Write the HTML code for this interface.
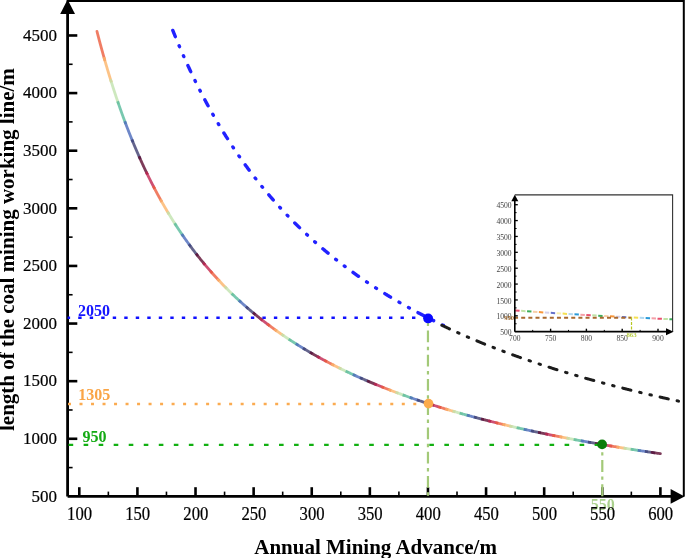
<!DOCTYPE html><html><head><meta charset="utf-8"><style>html,body{margin:0;padding:0;background:#fff;width:685px;height:558px;overflow:hidden}svg{display:block;will-change:transform}text{font-family:"Liberation Serif",serif}</style></head><body>
<svg width="685" height="558" viewBox="0 0 685 558">
<g fill="none" stroke-width="2.8" stroke-linecap="butt" stroke-opacity="0.8">
<path d="M96.97,31.38 L97.13,32.03 L97.30,32.68 L97.47,33.34 L97.64,33.99 L97.81,34.64 L97.98,35.29 L98.15,35.95 L98.32,36.60 L98.49,37.25 L98.66,37.90 L98.83,38.55 L99.00,39.21 L99.17,39.86 L99.35,40.51 L99.52,41.16 L99.69,41.81 L99.87,42.46 L100.04,43.11 L100.22,43.77 L100.39,44.42 L100.57,45.07 L100.74,45.72 L100.92,46.37 L101.10,47.02 L101.27,47.67 L101.45,48.32 L101.63,48.97 L101.81,49.62 L101.99,50.27 L102.17,50.92 L102.35,51.57 L102.53,52.22 L102.71,52.87 L102.89,53.52 L103.07,54.16 L103.25,54.81 L103.43,55.46 L103.62,56.11 L103.80,56.76 L103.98,57.41 L104.17,58.06 L104.35,58.70 L104.54,59.35 L104.72,60.00" stroke="#ec5c3d" stroke-linecap="round"/>
<path d="M103.90,57.12 L104.08,57.76 L104.27,58.41 L104.45,59.06 L104.64,59.71 L104.82,60.36 L105.01,61.00 L105.20,61.65 L105.38,62.30 L105.57,62.95 L105.76,63.59 L105.95,64.24 L106.14,64.89 L106.33,65.54 L106.52,66.18 L106.71,66.83 L106.90,67.48 L107.09,68.12 L107.28,68.77 L107.47,69.41 L107.67,70.06 L107.86,70.71 L108.05,71.35 L108.25,72.00 L108.44,72.64 L108.64,73.29 L108.83,73.93 L109.03,74.58 L109.23,75.22 L109.42,75.87 L109.62,76.51 L109.82,77.16 L110.02,77.80 L110.22,78.44 L110.42,79.09 L110.62,79.73 L110.82,80.38 L111.02,81.02 L111.22,81.66 L111.42,82.31" stroke="#fbb469"/>
<path d="M110.53,79.44 L110.72,80.08 L110.92,80.72 L111.12,81.35 L111.32,81.99 L111.52,82.62 L111.72,83.26 L111.92,83.90 L112.12,84.53 L112.33,85.17 L112.53,85.80 L112.73,86.44 L112.93,87.07 L113.14,87.71 L113.34,88.34 L113.55,88.98 L113.75,89.61 L113.96,90.25 L114.17,90.88 L114.37,91.51 L114.58,92.15 L114.79,92.78 L115.00,93.41 L115.21,94.05 L115.42,94.68 L115.63,95.31 L115.84,95.95 L116.05,96.58 L116.26,97.21 L116.47,97.84 L116.69,98.48 L116.90,99.11 L117.11,99.74 L117.33,100.37 L117.54,101.00 L117.76,101.63 L117.97,102.26 L118.19,102.89 L118.41,103.52 L118.62,104.16" stroke="#c1e2ae"/>
<path d="M117.65,101.32 L117.87,101.95 L118.09,102.59 L118.30,103.22 L118.52,103.86 L118.74,104.49 L118.96,105.13 L119.18,105.76 L119.40,106.40 L119.63,107.03 L119.85,107.67 L120.07,108.30 L120.29,108.93 L120.52,109.57 L120.74,110.20 L120.97,110.83 L121.19,111.46 L121.42,112.10 L121.65,112.73 L121.87,113.36 L122.10,113.99 L122.33,114.63 L122.56,115.26 L122.79,115.89 L123.02,116.52 L123.25,117.15 L123.48,117.78 L123.72,118.41 L123.95,119.04 L124.18,119.67 L124.42,120.30 L124.65,120.93 L124.88,121.56 L125.12,122.19 L125.36,122.82 L125.59,123.45 L125.83,124.07" stroke="#56ba9b"/>
<path d="M124.78,121.27 L125.02,121.91 L125.26,122.55 L125.50,123.19 L125.74,123.83 L125.98,124.47 L126.22,125.11 L126.47,125.75 L126.71,126.39 L126.96,127.03 L127.20,127.67 L127.45,128.31 L127.70,128.95 L127.95,129.59 L128.19,130.23 L128.44,130.86 L128.69,131.50 L128.94,132.14 L129.19,132.78 L129.45,133.41 L129.70,134.05 L129.95,134.69 L130.20,135.32 L130.46,135.96 L130.71,136.60 L130.97,137.23 L131.23,137.87 L131.48,138.50 L131.74,139.14 L132.00,139.77 L132.26,140.40 L132.52,141.04 L132.78,141.67 L133.04,142.31" stroke="#4a69ba"/>
<path d="M131.90,139.53 L132.16,140.16 L132.42,140.80 L132.68,141.43 L132.94,142.07 L133.20,142.70 L133.46,143.33 L133.73,143.96 L133.99,144.60 L134.25,145.23 L134.52,145.86 L134.78,146.49 L135.05,147.12 L135.32,147.75 L135.58,148.38 L135.85,149.01 L136.12,149.64 L136.39,150.27 L136.66,150.90 L136.93,151.53 L137.21,152.16 L137.48,152.79 L137.75,153.42 L138.03,154.04 L138.30,154.67 L138.58,155.30 L138.85,155.93 L139.13,156.55 L139.41,157.18 L139.69,157.80 L139.97,158.43 L140.25,159.06" stroke="#3d3d6f"/>
<path d="M139.03,156.31 L139.30,156.93 L139.57,157.54 L139.84,158.15 L140.11,158.76 L140.39,159.37 L140.66,159.97 L140.93,160.58 L141.21,161.19 L141.49,161.80 L141.76,162.41 L142.04,163.02 L142.32,163.62 L142.60,164.23 L142.88,164.84 L143.16,165.44 L143.44,166.05 L143.72,166.65 L144.00,167.26 L144.29,167.86 L144.57,168.47 L144.86,169.07 L145.14,169.68 L145.43,170.28 L145.72,170.88 L146.00,171.49 L146.29,172.09 L146.58,172.69 L146.87,173.29 L147.16,173.89 L147.45,174.50" stroke="#5c0b31"/>
<path d="M146.15,171.79 L146.44,172.40 L146.74,173.02 L147.03,173.63 L147.33,174.24 L147.62,174.85 L147.92,175.46 L148.22,176.07 L148.52,176.68 L148.82,177.28 L149.12,177.89 L149.42,178.50 L149.72,179.11 L150.02,179.71 L150.33,180.32 L150.63,180.93 L150.94,181.53 L151.24,182.14 L151.55,182.74 L151.86,183.35 L152.17,183.95 L152.47,184.56 L152.78,185.16 L153.10,185.76 L153.41,186.37 L153.72,186.97 L154.03,187.57 L154.35,188.17 L154.66,188.77" stroke="#c02450"/>
<path d="M153.28,186.11 L153.58,186.71 L153.89,187.30 L154.20,187.89 L154.51,188.49 L154.82,189.08 L155.13,189.67 L155.45,190.26 L155.76,190.86 L156.07,191.45 L156.39,192.04 L156.70,192.63 L157.02,193.22 L157.34,193.81 L157.66,194.40 L157.98,194.99 L158.30,195.57 L158.62,196.16 L158.94,196.75 L159.26,197.34 L159.58,197.92 L159.91,198.51 L160.23,199.09 L160.56,199.68 L160.88,200.26 L161.21,200.85 L161.54,201.43 L161.87,202.01" stroke="#ec5c3d"/>
<path d="M160.40,199.40 L160.74,200.00 L161.07,200.60 L161.41,201.20 L161.75,201.81 L162.09,202.41 L162.43,203.01 L162.77,203.61 L163.11,204.21 L163.46,204.81 L163.80,205.41 L164.15,206.00 L164.49,206.60 L164.84,207.20 L165.19,207.80 L165.54,208.39 L165.89,208.99 L166.24,209.58 L166.59,210.18 L166.94,210.77 L167.29,211.37 L167.65,211.96 L168.00,212.55 L168.36,213.14 L168.71,213.73 L169.07,214.33" stroke="#fbb469"/>
<path d="M167.53,211.75 L167.88,212.35 L168.23,212.94 L168.59,213.53 L168.95,214.12 L169.30,214.71 L169.66,215.30 L170.02,215.89 L170.38,216.47 L170.74,217.06 L171.11,217.65 L171.47,218.23 L171.83,218.82 L172.20,219.41 L172.57,219.99 L172.93,220.57 L173.30,221.16 L173.67,221.74 L174.04,222.32 L174.41,222.90 L174.78,223.48 L175.15,224.06 L175.53,224.64 L175.90,225.22 L176.28,225.80" stroke="#c1e2ae"/>
<path d="M174.65,223.28 L175.02,223.86 L175.40,224.45 L175.77,225.03 L176.15,225.61 L176.53,226.19 L176.90,226.77 L177.28,227.35 L177.66,227.93 L178.04,228.50 L178.43,229.08 L178.81,229.66 L179.19,230.23 L179.58,230.81 L179.96,231.38 L180.35,231.96 L180.74,232.53 L181.13,233.10 L181.52,233.68 L181.91,234.25 L182.30,234.82 L182.69,235.39 L183.08,235.96 L183.48,236.53" stroke="#56ba9b"/>
<path d="M181.78,234.06 L182.15,234.61 L182.53,235.16 L182.91,235.71 L183.29,236.26 L183.67,236.80 L184.05,237.35 L184.43,237.90 L184.82,238.45 L185.20,238.99 L185.59,239.54 L185.97,240.08 L186.36,240.63 L186.75,241.17 L187.14,241.71 L187.53,242.26 L187.92,242.80 L188.31,243.34 L188.70,243.88 L189.09,244.42 L189.49,244.96 L189.88,245.49 L190.28,246.03 L190.68,246.57" stroke="#4a69ba"/>
<path d="M188.90,244.15 L189.30,244.70 L189.70,245.24 L190.10,245.79 L190.50,246.33 L190.90,246.87 L191.30,247.41 L191.71,247.96 L192.11,248.50 L192.52,249.04 L192.92,249.58 L193.33,250.11 L193.74,250.65 L194.15,251.19 L194.56,251.73 L194.97,252.26 L195.38,252.80 L195.79,253.33 L196.21,253.87 L196.62,254.40 L197.04,254.93 L197.46,255.46 L197.87,255.99" stroke="#3d3d6f"/>
<path d="M196.03,253.63 L196.45,254.17 L196.87,254.71 L197.29,255.25 L197.71,255.79 L198.14,256.33 L198.57,256.87 L198.99,257.41 L199.42,257.94 L199.85,258.48 L200.28,259.02 L200.71,259.55 L201.14,260.08 L201.57,260.62 L202.01,261.15 L202.44,261.68 L202.88,262.21 L203.31,262.74 L203.75,263.27 L204.19,263.80 L204.63,264.33 L205.07,264.85" stroke="#5c0b31"/>
<path d="M203.15,262.54 L203.57,263.06 L204.00,263.57 L204.43,264.09 L204.85,264.60 L205.28,265.11 L205.71,265.62 L206.14,266.13 L206.57,266.64 L207.01,267.15 L207.44,267.66 L207.87,268.17 L208.31,268.67 L208.74,269.18 L209.18,269.68 L209.62,270.19 L210.05,270.69 L210.49,271.19 L210.93,271.70 L211.37,272.20 L211.81,272.70 L212.26,273.20" stroke="#c02450"/>
<path d="M210.28,270.95 L210.72,271.46 L211.18,271.97 L211.63,272.49 L212.08,273.00 L212.53,273.51 L212.99,274.02 L213.44,274.53 L213.90,275.04 L214.36,275.54 L214.81,276.05 L215.27,276.56 L215.73,277.06 L216.19,277.56 L216.66,278.07 L217.12,278.57 L217.58,279.07 L218.05,279.57 L218.51,280.07 L218.98,280.57 L219.45,281.07" stroke="#ec5c3d"/>
<path d="M217.40,278.88 L217.85,279.37 L218.31,279.85 L218.76,280.34 L219.22,280.83 L219.68,281.32 L220.13,281.80 L220.59,282.29 L221.05,282.77 L221.51,283.25 L221.97,283.73 L222.43,284.22 L222.90,284.70 L223.36,285.18 L223.82,285.66 L224.29,286.13 L224.76,286.61 L225.22,287.09 L225.69,287.56 L226.16,288.04 L226.63,288.51" stroke="#fbb469"/>
<path d="M224.53,286.37 L225.01,286.87 L225.49,287.36 L225.97,287.85 L226.45,288.33 L226.94,288.82 L227.42,289.31 L227.91,289.79 L228.40,290.28 L228.88,290.76 L229.37,291.25 L229.86,291.73 L230.35,292.21 L230.84,292.69 L231.34,293.17 L231.83,293.65 L232.32,294.13 L232.82,294.60 L233.31,295.08 L233.81,295.55" stroke="#c1e2ae"/>
<path d="M231.65,293.47 L232.13,293.94 L232.62,294.41 L233.10,294.88 L233.59,295.34 L234.08,295.81 L234.57,296.27 L235.06,296.74 L235.55,297.20 L236.04,297.66 L236.53,298.12 L237.02,298.58 L237.51,299.04 L238.01,299.50 L238.50,299.96 L239.00,300.41 L239.50,300.87 L239.99,301.32 L240.49,301.78 L240.99,302.23" stroke="#56ba9b"/>
<path d="M238.78,300.21 L239.29,300.68 L239.80,301.15 L240.32,301.62 L240.84,302.09 L241.36,302.56 L241.87,303.03 L242.39,303.50 L242.91,303.96 L243.44,304.43 L243.96,304.89 L244.48,305.35 L245.00,305.82 L245.53,306.28 L246.05,306.74 L246.58,307.20 L247.11,307.65 L247.64,308.11 L248.17,308.57" stroke="#4a69ba"/>
<path d="M245.90,306.60 L246.42,307.05 L246.94,307.50 L247.45,307.95 L247.97,308.40 L248.50,308.85 L249.02,309.30 L249.54,309.75 L250.06,310.19 L250.59,310.64 L251.11,311.08 L251.64,311.52 L252.16,311.96 L252.69,312.40 L253.22,312.84 L253.75,313.28 L254.28,313.72 L254.81,314.16 L255.34,314.59" stroke="#3d3d6f"/>
<path d="M253.03,312.68 L253.55,313.11 L254.07,313.55 L254.59,313.98 L255.11,314.41 L255.63,314.83 L256.16,315.26 L256.68,315.69 L257.21,316.12 L257.74,316.54 L258.26,316.96 L258.79,317.39 L259.32,317.81 L259.85,318.23 L260.38,318.65 L260.91,319.07 L261.44,319.49 L261.97,319.91 L262.51,320.32" stroke="#5c0b31"/>
<path d="M260.15,318.47 L260.67,318.88 L261.20,319.30 L261.72,319.71 L262.25,320.12 L262.77,320.53 L263.30,320.94 L263.83,321.35 L264.36,321.76 L264.88,322.17 L265.41,322.57 L265.94,322.98 L266.48,323.38 L267.01,323.78 L267.54,324.19 L268.07,324.59 L268.61,324.99 L269.14,325.39 L269.67,325.79" stroke="#c02450"/>
<path d="M267.27,323.99 L267.83,324.41 L268.39,324.83 L268.95,325.24 L269.51,325.66 L270.07,326.08 L270.63,326.49 L271.19,326.91 L271.75,327.32 L272.31,327.73 L272.88,328.15 L273.44,328.56 L274.00,328.97 L274.57,329.37 L275.14,329.78 L275.70,330.19 L276.27,330.59 L276.84,331.00" stroke="#ec5c3d"/>
<path d="M274.40,329.25 L274.96,329.65 L275.52,330.06 L276.08,330.46 L276.64,330.86 L277.20,331.26 L277.77,331.66 L278.33,332.05 L278.89,332.45 L279.46,332.85 L280.02,333.24 L280.59,333.63 L281.16,334.03 L281.72,334.42 L282.29,334.81 L282.86,335.20 L283.43,335.59 L284.00,335.98" stroke="#fbb469"/>
<path d="M281.52,334.28 L282.09,334.67 L282.65,335.05 L283.21,335.44 L283.78,335.82 L284.34,336.21 L284.91,336.59 L285.47,336.97 L286.04,337.35 L286.60,337.73 L287.17,338.11 L287.74,338.49 L288.31,338.86 L288.88,339.24 L289.45,339.61 L290.02,339.99 L290.59,340.36 L291.16,340.73" stroke="#c1e2ae"/>
<path d="M288.65,339.09 L289.21,339.46 L289.78,339.83 L290.34,340.20 L290.91,340.57 L291.48,340.94 L292.04,341.31 L292.61,341.67 L293.18,342.04 L293.75,342.40 L294.32,342.77 L294.89,343.13 L295.46,343.49 L296.03,343.85 L296.60,344.21 L297.17,344.57 L297.74,344.93 L298.32,345.29" stroke="#56ba9b"/>
<path d="M295.77,343.69 L296.34,344.05 L296.91,344.41 L297.47,344.76 L298.04,345.12 L298.61,345.47 L299.18,345.82 L299.75,346.17 L300.32,346.53 L300.89,346.88 L301.46,347.23 L302.03,347.57 L302.60,347.92 L303.18,348.27 L303.75,348.62 L304.32,348.96 L304.90,349.30 L305.47,349.65" stroke="#4a69ba"/>
<path d="M302.90,348.10 L303.50,348.47 L304.11,348.83 L304.71,349.19 L305.32,349.56 L305.92,349.92 L306.53,350.28 L307.14,350.64 L307.74,351.00 L308.35,351.35 L308.96,351.71 L309.57,352.07 L310.18,352.42 L310.79,352.77 L311.40,353.13 L312.01,353.48 L312.62,353.83" stroke="#3d3d6f"/>
<path d="M310.02,352.33 L310.63,352.68 L311.24,353.03 L311.84,353.38 L312.45,353.73 L313.06,354.08 L313.67,354.43 L314.27,354.77 L314.88,355.12 L315.49,355.46 L316.10,355.80 L316.71,356.15 L317.32,356.49 L317.94,356.83 L318.55,357.17 L319.16,357.51 L319.77,357.84" stroke="#5c0b31"/>
<path d="M317.15,356.39 L317.76,356.73 L318.36,357.07 L318.97,357.40 L319.58,357.74 L320.19,358.07 L320.80,358.41 L321.41,358.74 L322.02,359.07 L322.63,359.40 L323.24,359.73 L323.86,360.06 L324.47,360.39 L325.08,360.72 L325.69,361.05 L326.31,361.37 L326.92,361.70" stroke="#c02450"/>
<path d="M324.27,360.29 L324.88,360.61 L325.49,360.94 L326.10,361.26 L326.71,361.59 L327.32,361.91 L327.94,362.23 L328.55,362.55 L329.16,362.87 L329.77,363.19 L330.38,363.51 L331.00,363.83 L331.61,364.14 L332.23,364.46 L332.84,364.77 L333.45,365.09 L334.07,365.40" stroke="#ec5c3d"/>
<path d="M331.40,364.04 L332.01,364.35 L332.62,364.66 L333.23,364.98 L333.84,365.29 L334.46,365.60 L335.07,365.91 L335.68,366.22 L336.29,366.53 L336.91,366.83 L337.52,367.14 L338.14,367.45 L338.75,367.75 L339.37,368.06 L339.98,368.36 L340.60,368.66 L341.22,368.97" stroke="#fbb469"/>
<path d="M338.52,367.64 L339.14,367.94 L339.75,368.25 L340.36,368.55 L340.97,368.85 L341.59,369.15 L342.20,369.45 L342.82,369.75 L343.43,370.04 L344.05,370.34 L344.66,370.64 L345.28,370.93 L345.89,371.23 L346.51,371.52 L347.13,371.81 L347.74,372.11 L348.36,372.40" stroke="#c1e2ae"/>
<path d="M345.65,371.11 L346.26,371.40 L346.88,371.70 L347.49,371.99 L348.10,372.28 L348.72,372.57 L349.33,372.86 L349.95,373.14 L350.57,373.43 L351.18,373.72 L351.80,374.00 L352.41,374.29 L353.03,374.57 L353.65,374.86 L354.27,375.14 L354.88,375.42 L355.50,375.70" stroke="#56ba9b"/>
<path d="M352.77,374.46 L353.39,374.74 L354.00,375.02 L354.62,375.30 L355.23,375.58 L355.85,375.86 L356.47,376.14 L357.08,376.42 L357.70,376.70 L358.32,376.97 L358.93,377.25 L359.55,377.52 L360.17,377.80 L360.79,378.07 L361.41,378.35 L362.03,378.62 L362.64,378.89" stroke="#4a69ba"/>
<path d="M359.90,377.68 L360.52,377.95 L361.13,378.23 L361.75,378.50 L362.36,378.77 L362.98,379.04 L363.60,379.31 L364.22,379.58 L364.83,379.84 L365.45,380.11 L366.07,380.38 L366.69,380.65 L367.31,380.91 L367.93,381.18 L368.55,381.44 L369.17,381.70 L369.79,381.97" stroke="#3d3d6f"/>
<path d="M367.02,380.79 L367.64,381.05 L368.26,381.32 L368.88,381.58 L369.49,381.84 L370.11,382.10 L370.73,382.36 L371.35,382.62 L371.97,382.88 L372.58,383.14 L373.20,383.40 L373.82,383.66 L374.44,383.91 L375.06,384.17 L375.68,384.43 L376.30,384.68 L376.92,384.93" stroke="#5c0b31"/>
<path d="M374.15,383.79 L374.77,384.05 L375.39,384.30 L376.00,384.56 L376.62,384.81 L377.24,385.06 L377.86,385.31 L378.48,385.57 L379.10,385.82 L379.72,386.07 L380.34,386.32 L380.96,386.57 L381.58,386.81 L382.20,387.06 L382.82,387.31 L383.44,387.55 L384.06,387.80" stroke="#c02450"/>
<path d="M381.27,386.69 L381.93,386.96 L382.59,387.22 L383.26,387.48 L383.92,387.74 L384.58,388.00 L385.24,388.26 L385.90,388.52 L386.56,388.78 L387.22,389.04 L387.89,389.30 L388.55,389.55 L389.21,389.81 L389.87,390.06 L390.54,390.32 L391.20,390.57" stroke="#ec5c3d"/>
<path d="M388.40,389.50 L389.06,389.75 L389.72,390.01 L390.38,390.26 L391.04,390.51 L391.71,390.76 L392.37,391.02 L393.03,391.27 L393.69,391.52 L394.36,391.77 L395.02,392.02 L395.68,392.26 L396.35,392.51 L397.01,392.76 L397.67,393.01 L398.34,393.25" stroke="#fbb469"/>
<path d="M395.52,392.21 L396.19,392.45 L396.85,392.70 L397.51,392.95 L398.17,393.19 L398.83,393.44 L399.50,393.68 L400.16,393.92 L400.82,394.16 L401.49,394.41 L402.15,394.65 L402.81,394.89 L403.48,395.13 L404.14,395.37 L404.81,395.61 L405.47,395.84" stroke="#c1e2ae"/>
<path d="M402.65,394.83 L403.31,395.07 L403.97,395.31 L404.64,395.55 L405.30,395.78 L405.96,396.02 L406.63,396.26 L407.29,396.49 L407.95,396.73 L408.62,396.96 L409.28,397.20 L409.95,397.43 L410.61,397.66 L411.28,397.89 L411.94,398.12 L412.61,398.36" stroke="#56ba9b"/>
<path d="M409.77,397.37 L410.44,397.60 L411.10,397.83 L411.76,398.06 L412.43,398.29 L413.09,398.52 L413.76,398.75 L414.42,398.98 L415.09,399.21 L415.75,399.44 L416.41,399.66 L417.08,399.89 L417.75,400.11 L418.41,400.34 L419.08,400.56 L419.74,400.79" stroke="#4a69ba"/>
<path d="M416.90,399.83 L417.56,400.05 L418.23,400.28 L418.89,400.50 L419.56,400.72 L420.22,400.95 L420.89,401.17 L421.55,401.39 L422.22,401.61 L422.88,401.83 L423.55,402.05 L424.21,402.27 L424.88,402.49 L425.54,402.71 L426.21,402.93 L426.88,403.14" stroke="#3d3d6f"/>
<path d="M424.02,402.21 L424.69,402.43 L425.35,402.65 L426.02,402.86 L426.68,403.08 L427.35,403.30 L428.01,403.51 L428.68,403.73 L429.34,403.94 L430.01,404.16 L430.68,404.37 L431.34,404.58 L432.01,404.80 L432.68,405.01 L433.34,405.22 L434.01,405.43" stroke="#5c0b31"/>
<path d="M431.15,404.52 L431.81,404.73 L432.48,404.95 L433.15,405.16 L433.81,405.37 L434.48,405.58 L435.14,405.79 L435.81,405.99 L436.47,406.20 L437.14,406.41 L437.81,406.62 L438.47,406.82 L439.14,407.03 L439.81,407.24 L440.47,407.44 L441.14,407.65" stroke="#c02450"/>
<path d="M438.27,406.76 L438.94,406.97 L439.61,407.17 L440.27,407.38 L440.94,407.58 L441.60,407.79 L442.27,407.99 L442.94,408.19 L443.60,408.40 L444.27,408.60 L444.94,408.80 L445.60,409.00 L446.27,409.20 L446.94,409.40 L447.61,409.60 L448.27,409.80" stroke="#ec5c3d"/>
<path d="M445.40,408.94 L446.07,409.14 L446.73,409.34 L447.40,409.54 L448.07,409.74 L448.73,409.93 L449.40,410.13 L450.07,410.33 L450.73,410.52 L451.40,410.72 L452.07,410.92 L452.73,411.11 L453.40,411.31 L454.07,411.50 L454.74,411.69 L455.41,411.89" stroke="#fbb469"/>
<path d="M452.52,411.05 L453.19,411.24 L453.86,411.44 L454.52,411.63 L455.19,411.83 L455.86,412.02 L456.53,412.21 L457.19,412.40 L457.86,412.59 L458.53,412.78 L459.20,412.97 L459.86,413.16 L460.53,413.35 L461.20,413.54 L461.87,413.73 L462.54,413.92" stroke="#c1e2ae"/>
<path d="M459.65,413.10 L460.32,413.29 L460.98,413.48 L461.65,413.67 L462.32,413.85 L462.99,414.04 L463.65,414.23 L464.32,414.41 L464.99,414.60 L465.66,414.79 L466.33,414.97 L466.99,415.16 L467.66,415.34 L468.33,415.52 L469.00,415.71 L469.67,415.89" stroke="#56ba9b"/>
<path d="M466.78,415.09 L467.44,415.28 L468.11,415.46 L468.78,415.65 L469.45,415.83 L470.11,416.01 L470.78,416.19 L471.45,416.37 L472.12,416.55 L472.79,416.73 L473.45,416.91 L474.12,417.09 L474.79,417.27 L475.46,417.45 L476.13,417.63 L476.80,417.81" stroke="#4a69ba"/>
<path d="M473.90,417.03 L474.57,417.21 L475.24,417.39 L475.90,417.57 L476.57,417.75 L477.24,417.92 L477.91,418.10 L478.58,418.28 L479.25,418.45 L479.91,418.63 L480.58,418.80 L481.25,418.98 L481.92,419.15 L482.59,419.32 L483.26,419.50 L483.93,419.67" stroke="#3d3d6f"/>
<path d="M481.02,418.92 L481.69,419.09 L482.36,419.26 L483.03,419.44 L483.70,419.61 L484.37,419.78 L485.04,419.96 L485.70,420.13 L486.37,420.30 L487.04,420.47 L487.71,420.64 L488.38,420.81 L489.05,420.98 L489.72,421.15 L490.39,421.32 L491.06,421.48" stroke="#5c0b31"/>
<path d="M488.15,420.75 L488.82,420.92 L489.49,421.09 L490.16,421.26 L490.82,421.43 L491.49,421.59 L492.16,421.76 L492.83,421.93 L493.50,422.09 L494.17,422.26 L494.84,422.43 L495.51,422.59 L496.18,422.76 L496.85,422.92 L497.52,423.09 L498.19,423.25" stroke="#c02450"/>
<path d="M495.28,422.53 L495.94,422.70 L496.61,422.86 L497.28,423.03 L497.95,423.19 L498.62,423.36 L499.29,423.52 L499.96,423.68 L500.63,423.84 L501.30,424.01 L501.97,424.17 L502.64,424.33 L503.31,424.49 L503.98,424.65 L504.65,424.81 L505.32,424.97" stroke="#ec5c3d"/>
<path d="M502.40,424.27 L503.07,424.43 L503.74,424.59 L504.41,424.75 L505.08,424.91 L505.75,425.07 L506.42,425.23 L507.09,425.39 L507.76,425.55 L508.43,425.70 L509.10,425.86 L509.77,426.02 L510.44,426.18 L511.11,426.33 L511.78,426.49 L512.45,426.64" stroke="#fbb469"/>
<path d="M509.53,425.96 L510.19,426.12 L510.86,426.28 L511.53,426.43 L512.20,426.59 L512.87,426.74 L513.54,426.90 L514.21,427.05 L514.88,427.21 L515.55,427.36 L516.22,427.51 L516.89,427.67 L517.56,427.82 L518.23,427.97 L518.90,428.12 L519.58,428.28" stroke="#c1e2ae"/>
<path d="M516.65,427.61 L517.32,427.76 L517.99,427.92 L518.66,428.07 L519.33,428.22 L520.00,428.37 L520.67,428.52 L521.34,428.67 L522.01,428.82 L522.68,428.97 L523.35,429.12 L524.02,429.27 L524.69,429.42 L525.36,429.57 L526.03,429.72 L526.70,429.87" stroke="#56ba9b"/>
<path d="M523.77,429.22 L524.44,429.37 L525.12,429.52 L525.79,429.66 L526.46,429.81 L527.13,429.96 L527.80,430.11 L528.47,430.25 L529.14,430.40 L529.81,430.55 L530.48,430.69 L531.15,430.84 L531.82,430.98 L532.49,431.13 L533.16,431.27 L533.83,431.42" stroke="#4a69ba"/>
<path d="M530.90,430.78 L531.57,430.93 L532.24,431.07 L532.91,431.22 L533.58,431.36 L534.25,431.51 L534.92,431.65 L535.59,431.79 L536.26,431.94 L536.93,432.08 L537.61,432.22 L538.28,432.36 L538.95,432.51 L539.62,432.65 L540.29,432.79 L540.96,432.93" stroke="#3d3d6f"/>
<path d="M538.02,432.31 L538.70,432.45 L539.37,432.59 L540.04,432.73 L540.71,432.88 L541.38,433.02 L542.05,433.16 L542.72,433.30 L543.39,433.44 L544.06,433.58 L544.73,433.71 L545.40,433.85 L546.07,433.99 L546.75,434.13 L547.42,434.27 L548.09,434.40" stroke="#5c0b31"/>
<path d="M545.15,433.80 L545.82,433.94 L546.49,434.08 L547.16,434.21 L547.83,434.35 L548.50,434.49 L549.17,434.63 L549.85,434.76 L550.52,434.90 L551.19,435.03 L551.86,435.17 L552.53,435.31 L553.20,435.44 L553.87,435.58 L554.54,435.71 L555.22,435.84" stroke="#c02450"/>
<path d="M552.27,435.25 L552.95,435.39 L553.62,435.52 L554.29,435.66 L554.96,435.79 L555.63,435.93 L556.30,436.06 L556.97,436.19 L557.64,436.33 L558.31,436.46 L558.99,436.59 L559.66,436.72 L560.33,436.86 L561.00,436.99 L561.67,437.12 L562.34,437.25" stroke="#ec5c3d"/>
<path d="M559.40,436.67 L560.07,436.80 L560.74,436.94 L561.41,437.07 L562.08,437.20 L562.76,437.33 L563.43,437.46 L564.10,437.59 L564.77,437.72 L565.44,437.85 L566.11,437.98 L566.78,438.11 L567.46,438.24 L568.13,438.37 L568.80,438.49 L569.47,438.62" stroke="#fbb469"/>
<path d="M566.52,438.06 L567.20,438.19 L567.87,438.32 L568.54,438.44 L569.21,438.57 L569.88,438.70 L570.55,438.83 L571.22,438.95 L571.90,439.08 L572.57,439.21 L573.24,439.33 L573.91,439.46 L574.58,439.59 L575.26,439.71 L575.93,439.84 L576.60,439.96" stroke="#c1e2ae"/>
<path d="M573.65,439.41 L574.32,439.54 L574.99,439.66 L575.66,439.79 L576.34,439.91 L577.01,440.04 L577.68,440.16 L578.35,440.29 L579.02,440.41 L579.69,440.54 L580.37,440.66 L581.04,440.78 L581.71,440.90 L582.38,441.03 L583.05,441.15 L583.73,441.27" stroke="#56ba9b"/>
<path d="M580.77,440.73 L581.45,440.86 L582.12,440.98 L582.79,441.10 L583.46,441.22 L584.13,441.35 L584.81,441.47 L585.48,441.59 L586.15,441.71 L586.82,441.83 L587.49,441.95 L588.16,442.07 L588.84,442.19 L589.51,442.31 L590.18,442.43 L590.85,442.55" stroke="#4a69ba"/>
<path d="M587.90,442.03 L588.57,442.15 L589.24,442.27 L589.92,442.39 L590.59,442.50 L591.26,442.62 L591.93,442.74 L592.60,442.86 L593.27,442.98 L593.95,443.10 L594.62,443.22 L595.29,443.33 L595.96,443.45 L596.64,443.57 L597.31,443.69 L597.98,443.80" stroke="#3d3d6f"/>
<path d="M595.02,443.29 L595.70,443.41 L596.37,443.52 L597.04,443.64 L597.71,443.76 L598.38,443.87 L599.06,443.99 L599.73,444.11 L600.40,444.22 L601.07,444.34 L601.75,444.45 L602.42,444.57 L603.09,444.68 L603.76,444.80 L604.43,444.91 L605.11,445.03" stroke="#5c0b31"/>
<path d="M602.15,444.52 L602.82,444.64 L603.49,444.75 L604.17,444.87 L604.84,444.98 L605.51,445.10 L606.18,445.21 L606.85,445.32 L607.53,445.44 L608.20,445.55 L608.87,445.66 L609.54,445.77 L610.22,445.89 L610.89,446.00 L611.56,446.11 L612.23,446.22" stroke="#c02450"/>
<path d="M609.27,445.73 L609.95,445.84 L610.62,445.95 L611.29,446.07 L611.96,446.18 L612.64,446.29 L613.31,446.40 L613.98,446.51 L614.65,446.62 L615.33,446.73 L616.00,446.84 L616.67,446.96 L617.34,447.07 L618.02,447.17 L618.69,447.28 L619.36,447.39" stroke="#ec5c3d"/>
<path d="M616.40,446.91 L617.07,447.02 L617.74,447.13 L618.42,447.24 L619.09,447.35 L619.76,447.46 L620.43,447.57 L621.11,447.68 L621.78,447.79 L622.45,447.89 L623.12,448.00 L623.80,448.11 L624.47,448.22 L625.14,448.32 L625.81,448.43 L626.49,448.54" stroke="#fbb469"/>
<path d="M623.52,448.07 L624.20,448.17 L624.87,448.28 L625.54,448.39 L626.21,448.50 L626.89,448.60 L627.56,448.71 L628.23,448.82 L628.90,448.92 L629.58,449.03 L630.25,449.13 L630.92,449.24 L631.60,449.35 L632.27,449.45 L632.94,449.56 L633.61,449.66" stroke="#c1e2ae"/>
<path d="M630.65,449.20 L631.32,449.30 L631.99,449.41 L632.67,449.51 L633.34,449.62 L634.01,449.72 L634.69,449.83 L635.36,449.93 L636.03,450.04 L636.70,450.14 L637.38,450.24 L638.05,450.35 L638.72,450.45 L639.39,450.55 L640.07,450.66 L640.74,450.76" stroke="#56ba9b"/>
<path d="M637.77,450.30 L638.45,450.41 L639.12,450.51 L639.79,450.61 L640.47,450.72 L641.14,450.82 L641.81,450.92 L642.48,451.02 L643.16,451.12 L643.83,451.23 L644.50,451.33 L645.18,451.43 L645.85,451.53 L646.52,451.63 L647.19,451.73 L647.87,451.83" stroke="#4a69ba"/>
<path d="M644.90,451.39 L645.57,451.49 L646.25,451.59 L646.92,451.69 L647.59,451.79 L648.26,451.89 L648.94,451.99 L649.61,452.09 L650.28,452.19 L650.96,452.29 L651.63,452.39 L652.30,452.49 L652.97,452.59 L653.65,452.69 L654.32,452.79 L654.99,452.88" stroke="#3d3d6f"/>
<path d="M652.02,452.45 L652.72,452.55 L653.42,452.65 L654.12,452.76 L654.82,452.86 L655.51,452.96 L656.21,453.06 L656.91,453.16 L657.61,453.27 L658.31,453.37 L659.00,453.47 L659.70,453.57 L660.40,453.67" stroke="#5c0b31" stroke-linecap="round"/>
</g>
<path d="M172.74,30.24 L173.08,31.09 L173.42,31.94 L173.76,32.78 L174.10,33.62 L174.44,34.46 L174.78,35.29 L175.12,36.12 L175.46,36.95 L175.80,37.78 L176.14,38.60 L176.48,39.42 L176.82,40.24 L177.16,41.06 L177.50,41.87 L177.84,42.68 L178.18,43.49 L178.52,44.30 L178.86,45.10 L179.20,45.90 L179.54,46.70 L179.88,47.50 L180.22,48.29 L180.56,49.08 L180.90,49.87 L181.24,50.65 L181.58,51.44 L181.92,52.22 L182.26,53.00 L182.60,53.77 L182.94,54.55 L183.28,55.32 L183.62,56.09 L183.96,56.85 L184.30,57.62 L184.64,58.38 L184.98,59.14 L185.32,59.90 L185.66,60.65 L186.00,61.41 L186.34,62.16 L186.68,62.90 L187.02,63.65 L187.36,64.39 L187.70,65.13 L188.04,65.87 L188.38,66.61 L188.73,67.35 L189.07,68.08 L189.41,68.81 L189.75,69.54 L190.09,70.26 L190.43,70.99 L190.77,71.71 L191.11,72.43 L191.45,73.14 L191.79,73.86 L192.13,74.57 L192.47,75.28 L192.81,75.99 L193.15,76.70 L193.49,77.40 L193.83,78.10 L194.17,78.80 L194.51,79.50 L194.85,80.20 L195.19,80.89 L195.53,81.59 L195.87,82.28 L196.21,82.96 L196.55,83.65 L196.89,84.33 L197.23,85.02 L197.57,85.70 L197.91,86.38 L198.25,87.05 L198.59,87.73 L198.93,88.40 L199.27,89.07 L199.61,89.74 L199.95,90.40 L200.29,91.07 L200.63,91.73 L200.97,92.39 L201.31,93.05 L201.65,93.71 L201.99,94.36 L202.33,95.02 L202.67,95.67 L203.01,96.32 L203.35,96.97 L203.69,97.61 L204.03,98.26 L204.37,98.90 L204.71,99.54 L205.05,100.18 L205.39,100.81 L205.73,101.45 L206.07,102.08 L206.41,102.72 L206.75,103.34 L207.09,103.97 L207.43,104.60 L207.77,105.22 L208.11,105.85 L208.45,106.47 L208.79,107.09 L209.13,107.71 L209.47,108.32 L209.81,108.94 L210.15,109.55 L210.49,110.16 L210.83,110.77 L211.17,111.38 L211.51,111.98 L211.85,112.59 L212.19,113.19 L212.53,113.79 L212.87,114.39 L213.21,114.99 L213.55,115.58 L213.89,116.18 L214.23,116.77 L214.57,117.36 L214.91,117.95 L215.25,118.54 L215.59,119.13 L215.93,119.71 L216.27,120.29 L216.61,120.88 L216.95,121.46 L217.29,122.04 L217.63,122.61 L217.97,123.19 L218.31,123.76 L218.65,124.33 L218.99,124.91 L219.33,125.48 L219.67,126.04 L220.01,126.61 L220.35,127.17 L220.69,127.74 L221.03,128.30 L221.37,128.86 L221.71,129.42 L222.05,129.98 L222.39,130.53 L222.73,131.09 L223.07,131.64 L223.41,132.19 L223.75,132.74 L224.09,133.29 L224.43,133.84 L224.77,134.39 L225.11,134.93 L225.45,135.47 L225.79,136.02 L226.13,136.56 L226.47,137.09 L226.81,137.63 L227.16,138.17 L227.50,138.70 L227.84,139.24 L228.18,139.77 L228.52,140.30 L228.86,140.83 L229.20,141.36 L229.54,141.88 L229.88,142.41 L230.22,142.93 L230.56,143.46 L230.90,143.98 L231.24,144.50 L231.58,145.02 L231.92,145.53 L232.26,146.05 L232.60,146.56 L232.94,147.08 L233.28,147.59 L233.62,148.10 L233.96,148.61 L234.30,149.12 L234.64,149.63 L234.98,150.13 L235.32,150.64 L235.66,151.14 L236.00,151.64 L236.34,152.14 L236.68,152.64 L237.02,153.14 L237.36,153.64 L237.70,154.13 L238.04,154.63 L238.38,155.12 L238.72,155.61 L239.06,156.10 L239.40,156.59 L239.74,157.08 L240.08,157.57 L240.42,158.06 L240.76,158.54 L241.10,159.02 L241.44,159.51 L241.78,159.99 L242.12,160.47 L242.46,160.95 L242.80,161.43 L243.14,161.90 L243.48,162.38 L243.82,162.85 L244.16,163.33 L244.50,163.80 L244.84,164.27 L245.18,164.74 L245.52,165.21 L245.86,165.68 L246.20,166.14 L246.54,166.61 L246.88,167.07 L247.22,167.53 L247.56,168.00 L247.90,168.46 L248.24,168.92 L248.58,169.38 L248.92,169.83 L249.26,170.29 L249.60,170.75 L249.94,171.20 L250.28,171.65 L250.62,172.11 L250.96,172.56 L251.30,173.01 L251.64,173.46 L251.98,173.90 L252.32,174.35 L252.66,174.80 L253.00,175.24 L253.34,175.69 L253.68,176.13 L254.02,176.57 L254.36,177.01 L254.70,177.45 L255.04,177.89 L255.38,178.33 L255.72,178.76 L256.06,179.20 L256.40,179.63 L256.74,180.07 L257.08,180.50 L257.42,180.93 L257.76,181.36 L258.10,181.79 L258.44,182.22 L258.78,182.65 L259.12,183.07 L259.46,183.50 L259.80,183.92 L260.14,184.35 L260.48,184.77 L260.82,185.19 L261.16,185.61 L261.50,186.03 L261.84,186.45 L262.18,186.87 L262.52,187.29 L262.86,187.70 L263.20,188.12 L263.54,188.53 L263.88,188.95 L264.22,189.36 L264.56,189.77 L264.90,190.18 L265.25,190.59 L265.59,191.00 L265.93,191.41 L266.27,191.81 L266.61,192.22 L266.95,192.62 L267.29,193.03 L267.63,193.43 L267.97,193.83 L268.31,194.23 L268.65,194.63 L268.99,195.03 L269.33,195.43 L269.67,195.83 L270.01,196.23 L270.35,196.62 L270.69,197.02 L271.03,197.41 L271.37,197.81 L271.71,198.20 L272.05,198.59 L272.39,198.98 L272.73,199.37 L273.07,199.76 L273.41,200.15 L273.75,200.54 L274.09,200.92 L274.43,201.31 L274.77,201.69 L275.11,202.08 L275.45,202.46 L275.79,202.84 L276.13,203.22 L276.47,203.60 L276.81,203.98 L277.15,204.36 L277.49,204.74 L277.83,205.12 L278.17,205.49 L278.51,205.87 L278.85,206.25 L279.19,206.62 L279.53,206.99 L279.87,207.37 L280.21,207.74 L280.55,208.11 L280.89,208.48 L281.23,208.85 L281.57,209.22 L281.91,209.58 L282.25,209.95 L282.59,210.32 L282.93,210.68 L283.27,211.05 L283.61,211.41 L283.95,211.77 L284.29,212.14 L284.63,212.50 L284.97,212.86 L285.31,213.22 L285.65,213.58 L285.99,213.94 L286.33,214.30 L286.67,214.65 L287.01,215.01 L287.35,215.36 L287.69,215.72 L288.03,216.07 L288.37,216.43 L288.71,216.78 L289.05,217.13 L289.39,217.48 L289.73,217.83 L290.07,218.18 L290.41,218.53 L290.75,218.88 L291.09,219.23 L291.43,219.57 L291.77,219.92 L292.11,220.26 L292.45,220.61 L292.79,220.95 L293.13,221.30 L293.47,221.64 L293.81,221.98 L294.15,222.32 L294.49,222.66 L294.83,223.00 L295.17,223.34 L295.51,223.68 L295.85,224.02 L296.19,224.35 L296.53,224.69 L296.87,225.03 L297.21,225.36 L297.55,225.69 L297.89,226.03 L298.23,226.36 L298.57,226.69 L298.91,227.02 L299.25,227.35 L299.59,227.68 L299.93,228.01 L300.27,228.34 L300.61,228.67 L300.95,229.00 L301.29,229.33 L301.63,229.65 L301.97,229.98 L302.31,230.30 L302.65,230.63 L302.99,230.95 L303.33,231.27 L303.68,231.60 L304.02,231.92 L304.36,232.24 L304.70,232.56 L305.04,232.88 L305.38,233.20 L305.72,233.52 L306.06,233.83 L306.40,234.15 L306.74,234.47 L307.08,234.78 L307.42,235.10 L307.76,235.41 L308.10,235.73 L308.44,236.04 L308.78,236.35 L309.12,236.67 L309.46,236.98 L309.80,237.29 L310.14,237.60 L310.48,237.91 L310.82,238.22 L311.16,238.53 L311.50,238.83 L311.84,239.14 L312.18,239.45 L312.52,239.75 L312.86,240.06 L313.20,240.36 L313.54,240.67 L313.88,240.97 L314.22,241.28 L314.56,241.58 L314.90,241.88 L315.24,242.18 L315.58,242.48 L315.92,242.78 L316.26,243.08 L316.60,243.38 L316.94,243.68 L317.28,243.98 L317.62,244.28 L317.96,244.57 L318.30,244.87 L318.64,245.16 L318.98,245.46 L319.32,245.75 L319.66,246.05 L320.00,246.34 L320.34,246.63 L320.68,246.93 L321.02,247.22 L321.36,247.51 L321.70,247.80 L322.04,248.09 L322.38,248.38 L322.72,248.67 L323.06,248.96 L323.40,249.25 L323.74,249.53 L324.08,249.82 L324.42,250.11 L324.76,250.39 L325.10,250.68 L325.44,250.96 L325.78,251.25 L326.12,251.53 L326.46,251.81 L326.80,252.10 L327.14,252.38 L327.48,252.66 L327.82,252.94 L328.16,253.22 L328.50,253.50 L328.84,253.78 L329.18,254.06 L329.52,254.34 L329.86,254.61 L330.20,254.89 L330.54,255.17 L330.88,255.45 L331.22,255.72 L331.56,256.00 L331.90,256.27 L332.24,256.55 L332.58,256.82 L332.92,257.09 L333.26,257.37 L333.60,257.64 L333.94,257.91 L334.28,258.18 L334.62,258.45 L334.96,258.72 L335.30,258.99 L335.64,259.26 L335.98,259.53 L336.32,259.80 L336.66,260.07 L337.00,260.33 L337.34,260.60 L337.68,260.87 L338.02,261.13 L338.36,261.40 L338.70,261.66 L339.04,261.93 L339.38,262.19 L339.72,262.45 L340.06,262.72 L340.40,262.98 L340.74,263.24 L341.08,263.50 L341.42,263.76 L341.77,264.03 L342.11,264.29 L342.45,264.55 L342.79,264.80 L343.13,265.06 L343.47,265.32 L343.81,265.58 L344.15,265.84 L344.49,266.09 L344.83,266.35 L345.17,266.61 L345.51,266.86 L345.85,267.12 L346.19,267.37 L346.53,267.63 L346.87,267.88 L347.21,268.13 L347.55,268.39 L347.89,268.64 L348.23,268.89 L348.57,269.14 L348.91,269.39 L349.25,269.64 L349.59,269.89 L349.93,270.14 L350.27,270.39 L350.61,270.64 L350.95,270.89 L351.29,271.14 L351.63,271.39 L351.97,271.63 L352.31,271.88 L352.65,272.13 L352.99,272.37 L353.33,272.62 L353.67,272.86 L354.01,273.11 L354.35,273.35 L354.69,273.60 L355.03,273.84 L355.37,274.08 L355.71,274.32 L356.05,274.57 L356.39,274.81 L356.73,275.05 L357.07,275.29 L357.41,275.53 L357.75,275.77 L358.09,276.01 L358.43,276.25 L358.77,276.49 L359.11,276.73 L359.45,276.96 L359.79,277.20 L360.13,277.44 L360.47,277.68 L360.81,277.91 L361.15,278.15 L361.49,278.38 L361.83,278.62 L362.17,278.85 L362.51,279.09 L362.85,279.32 L363.19,279.55 L363.53,279.79 L363.87,280.02 L364.21,280.25 L364.55,280.48 L364.89,280.72 L365.23,280.95 L365.57,281.18 L365.91,281.41 L366.25,281.64 L366.59,281.87 L366.93,282.10 L367.27,282.33 L367.61,282.55 L367.95,282.78 L368.29,283.01 L368.63,283.24 L368.97,283.46 L369.31,283.69 L369.65,283.92 L369.99,284.14 L370.33,284.37 L370.67,284.59 L371.01,284.82 L371.35,285.04 L371.69,285.27 L372.03,285.49 L372.37,285.71 L372.71,285.93 L373.05,286.16 L373.39,286.38 L373.73,286.60 L374.07,286.82 L374.41,287.04 L374.75,287.26 L375.09,287.48 L375.43,287.70 L375.77,287.92 L376.11,288.14 L376.45,288.36 L376.79,288.58 L377.13,288.80 L377.47,289.01 L377.81,289.23 L378.15,289.45 L378.49,289.67 L378.83,289.88 L379.17,290.10 L379.51,290.31 L379.85,290.53 L380.20,290.74 L380.54,290.96 L380.88,291.17 L381.22,291.39 L381.56,291.60 L381.90,291.81 L382.24,292.02 L382.58,292.24 L382.92,292.45 L383.26,292.66 L383.60,292.87 L383.94,293.08 L384.28,293.29 L384.62,293.50 L384.96,293.71 L385.30,293.92 L385.64,294.13 L385.98,294.34 L386.32,294.55 L386.66,294.76 L387.00,294.97 L387.34,295.18 L387.68,295.38 L388.02,295.59 L388.36,295.80 L388.70,296.00 L389.04,296.21 L389.38,296.41 L389.72,296.62 L390.06,296.82 L390.40,297.03 L390.74,297.23 L391.08,297.44 L391.42,297.64 L391.76,297.84 L392.10,298.05 L392.44,298.25 L392.78,298.45 L393.12,298.65 L393.46,298.86 L393.80,299.06 L394.14,299.26 L394.48,299.46 L394.82,299.66 L395.16,299.86 L395.50,300.06 L395.84,300.26 L396.18,300.46 L396.52,300.66 L396.86,300.86 L397.20,301.06 L397.54,301.25 L397.88,301.45 L398.22,301.65 L398.56,301.85 L398.90,302.04 L399.24,302.24 L399.58,302.44 L399.92,302.63 L400.26,302.83 L400.60,303.02 L400.94,303.22 L401.28,303.41 L401.62,303.61 L401.96,303.80 L402.30,303.99 L402.64,304.19 L402.98,304.38 L403.32,304.57 L403.66,304.77 L404.00,304.96 L404.34,305.15 L404.68,305.34 L405.02,305.53 L405.36,305.72 L405.70,305.91 L406.04,306.11 L406.38,306.30 L406.72,306.49 L407.06,306.67 L407.40,306.86 L407.74,307.05 L408.08,307.24 L408.42,307.43 L408.76,307.62 L409.10,307.81 L409.44,307.99 L409.78,308.18 L410.12,308.37 L410.46,308.55 L410.80,308.74 L411.14,308.93 L411.48,309.11 L411.82,309.30 L412.16,309.48 L412.50,309.67 L412.84,309.85 L413.18,310.04 L413.52,310.22 L413.86,310.41 L414.20,310.59 L414.54,310.77 L414.88,310.96 L415.22,311.14 L415.56,311.32 L415.90,311.50 L416.24,311.69 L416.58,311.87 L416.92,312.05 L417.26,312.23 L417.60,312.41 L417.94,312.59 L418.28,312.77 L418.63,312.95 L418.97,313.13 L419.31,313.31 L419.65,313.49 L419.99,313.67 L420.33,313.85 L420.67,314.03 L421.01,314.21 L421.35,314.38 L421.69,314.56 L422.03,314.74 L422.37,314.92 L422.71,315.09 L423.05,315.27 L423.39,315.45 L423.73,315.62 L424.07,315.80 L424.41,315.97 L424.75,316.15 L425.09,316.32 L425.43,316.50 L425.77,316.67 L426.11,316.85 L426.45,317.02 L426.79,317.20 L427.13,317.37 L427.47,317.54 L427.81,317.72 L428.15,317.89 L428.49,318.06 L428.83,318.23 L429.17,318.41 L429.51,318.58 L429.85,318.75 L430.19,318.92 L430.53,319.09 L430.87,319.26 L431.21,319.43 L431.55,319.60 L431.89,319.77 L432.23,319.94 L432.57,320.11 L432.91,320.28 L433.25,320.45 L433.59,320.62 L433.93,320.79 L434.27,320.96 L434.61,321.12 L434.95,321.29 L435.29,321.46 L435.63,321.63 L435.97,321.79 L436.31,321.96 L436.65,322.13 L436.99,322.29 L437.33,322.46 L437.67,322.63 L438.01,322.79 L438.35,322.96 L438.69,323.12 L439.03,323.29 L439.37,323.45 L439.71,323.62 L440.05,323.78 L440.39,323.95 L440.73,324.11 L441.07,324.27 L441.41,324.44 L441.75,324.60 L442.09,324.76 L442.43,324.92 L442.77,325.09 L443.11,325.25 L443.45,325.41 L443.79,325.57 L444.13,325.73 L444.47,325.90 L444.81,326.06" fill="none" stroke="#2222ff" stroke-width="3.4" stroke-linecap="round" stroke-dasharray="6.7 9.85 1.0 9.85 1.0 9.85" stroke-dashoffset="-0.2"/>
<path transform="translate(0,0.6)" d="M437.84,322.71 L438.25,322.91 L438.66,323.11 L439.07,323.31 L439.48,323.50 L439.89,323.70 L440.30,323.90 L440.71,324.10 L441.12,324.29 L441.53,324.49 L441.94,324.69 L442.35,324.88 L442.75,325.08 L443.16,325.27 L443.57,325.47 L443.98,325.66 L444.39,325.86 L444.80,326.05 L445.21,326.25 L445.62,326.44 L446.03,326.63 L446.44,326.83 L446.85,327.02 L447.26,327.21 L447.67,327.40 L448.08,327.59 L448.49,327.78 L448.90,327.98 L449.31,328.17 L449.72,328.36 L450.13,328.55 L450.54,328.74 L450.95,328.92 L451.36,329.11 L451.77,329.30 L452.18,329.49 L452.59,329.68 L453.00,329.87 L453.41,330.05 L453.82,330.24 L454.23,330.43 L454.64,330.61 L455.05,330.80 L455.45,330.98 L455.86,331.17 L456.27,331.35 L456.68,331.54 L457.09,331.72 L457.50,331.91 L457.91,332.09 L458.32,332.28 L458.73,332.46 L459.14,332.64 L459.55,332.82 L459.96,333.01 L460.37,333.19 L460.78,333.37 L461.19,333.55 L461.60,333.73 L462.01,333.91 L462.42,334.10 L462.83,334.28 L463.24,334.46 L463.65,334.64 L464.06,334.81 L464.47,334.99 L464.88,335.17 L465.29,335.35 L465.70,335.53 L466.11,335.71 L466.52,335.88 L466.93,336.06 L467.34,336.24 L467.75,336.42 L468.15,336.59 L468.56,336.77 L468.97,336.94 L469.38,337.12 L469.79,337.30 L470.20,337.47 L470.61,337.65 L471.02,337.82 L471.43,337.99 L471.84,338.17 L472.25,338.34 L472.66,338.52 L473.07,338.69 L473.48,338.86 L473.89,339.03 L474.30,339.21 L474.71,339.38 L475.12,339.55 L475.53,339.72 L475.94,339.89 L476.35,340.06 L476.76,340.23 L477.17,340.40 L477.58,340.57 L477.99,340.74 L478.40,340.91 L478.81,341.08 L479.22,341.25 L479.63,341.42 L480.04,341.59 L480.44,341.76 L480.85,341.93 L481.26,342.09 L481.67,342.26 L482.08,342.43 L482.49,342.59 L482.90,342.76 L483.31,342.93 L483.72,343.09 L484.13,343.26 L484.54,343.42 L484.95,343.59 L485.36,343.76 L485.77,343.92 L486.18,344.08 L486.59,344.25 L487.00,344.41 L487.41,344.58 L487.82,344.74 L488.23,344.90 L488.64,345.07 L489.05,345.23 L489.46,345.39 L489.87,345.55 L490.28,345.72 L490.69,345.88 L491.10,346.04 L491.51,346.20 L491.92,346.36 L492.33,346.52 L492.74,346.68 L493.14,346.84 L493.55,347.00 L493.96,347.16 L494.37,347.32 L494.78,347.48 L495.19,347.64 L495.60,347.80 L496.01,347.96 L496.42,348.12 L496.83,348.27 L497.24,348.43 L497.65,348.59 L498.06,348.75 L498.47,348.90 L498.88,349.06 L499.29,349.22 L499.70,349.37 L500.11,349.53 L500.52,349.69 L500.93,349.84 L501.34,350.00 L501.75,350.15 L502.16,350.31 L502.57,350.46 L502.98,350.62 L503.39,350.77 L503.80,350.92 L504.21,351.08 L504.62,351.23 L505.03,351.38 L505.44,351.54 L505.84,351.69 L506.25,351.84 L506.66,352.00 L507.07,352.15 L507.48,352.30 L507.89,352.45 L508.30,352.60 L508.71,352.75 L509.12,352.90 L509.53,353.06 L509.94,353.21 L510.35,353.36 L510.76,353.51 L511.17,353.66 L511.58,353.81 L511.99,353.96 L512.40,354.10 L512.81,354.25 L513.22,354.40 L513.63,354.55 L514.04,354.70 L514.45,354.85 L514.86,355.00 L515.27,355.14 L515.68,355.29 L516.09,355.44 L516.50,355.58 L516.91,355.73 L517.32,355.88 L517.73,356.02 L518.14,356.17 L518.54,356.32 L518.95,356.46 L519.36,356.61 L519.77,356.75 L520.18,356.90 L520.59,357.04 L521.00,357.19 L521.41,357.33 L521.82,357.48 L522.23,357.62 L522.64,357.76 L523.05,357.91 L523.46,358.05 L523.87,358.19 L524.28,358.34 L524.69,358.48 L525.10,358.62 L525.51,358.76 L525.92,358.91 L526.33,359.05 L526.74,359.19 L527.15,359.33 L527.56,359.47 L527.97,359.61 L528.38,359.75 L528.79,359.90 L529.20,360.04 L529.61,360.18 L530.02,360.32 L530.43,360.46 L530.84,360.60 L531.24,360.74 L531.65,360.87 L532.06,361.01 L532.47,361.15 L532.88,361.29 L533.29,361.43 L533.70,361.57 L534.11,361.71 L534.52,361.84 L534.93,361.98 L535.34,362.12 L535.75,362.26 L536.16,362.39 L536.57,362.53 L536.98,362.67 L537.39,362.80 L537.80,362.94 L538.21,363.08 L538.62,363.21 L539.03,363.35 L539.44,363.48 L539.85,363.62 L540.26,363.75 L540.67,363.89 L541.08,364.02 L541.49,364.16 L541.90,364.29 L542.31,364.43 L542.72,364.56 L543.13,364.69 L543.53,364.83 L543.94,364.96 L544.35,365.09 L544.76,365.23 L545.17,365.36 L545.58,365.49 L545.99,365.63 L546.40,365.76 L546.81,365.89 L547.22,366.02 L547.63,366.15 L548.04,366.29 L548.45,366.42 L548.86,366.55 L549.27,366.68 L549.68,366.81 L550.09,366.94 L550.50,367.07 L550.91,367.20 L551.32,367.33 L551.73,367.46 L552.14,367.59 L552.55,367.72 L552.96,367.85 L553.37,367.98 L553.78,368.11 L554.19,368.24 L554.60,368.37 L555.01,368.49 L555.42,368.62 L555.83,368.75 L556.23,368.88 L556.64,369.01 L557.05,369.13 L557.46,369.26 L557.87,369.39 L558.28,369.52 L558.69,369.64 L559.10,369.77 L559.51,369.90 L559.92,370.02 L560.33,370.15 L560.74,370.27 L561.15,370.40 L561.56,370.53 L561.97,370.65 L562.38,370.78 L562.79,370.90 L563.20,371.03 L563.61,371.15 L564.02,371.28 L564.43,371.40 L564.84,371.53 L565.25,371.65 L565.66,371.77 L566.07,371.90 L566.48,372.02 L566.89,372.14 L567.30,372.27 L567.71,372.39 L568.12,372.51 L568.53,372.64 L568.93,372.76 L569.34,372.88 L569.75,373.00 L570.16,373.13 L570.57,373.25 L570.98,373.37 L571.39,373.49 L571.80,373.61 L572.21,373.73 L572.62,373.86 L573.03,373.98 L573.44,374.10 L573.85,374.22 L574.26,374.34 L574.67,374.46 L575.08,374.58 L575.49,374.70 L575.90,374.82 L576.31,374.94 L576.72,375.06 L577.13,375.18 L577.54,375.30 L577.95,375.42 L578.36,375.54 L578.77,375.65 L579.18,375.77 L579.59,375.89 L580.00,376.01 L580.41,376.13 L580.82,376.25 L581.23,376.36 L581.63,376.48 L582.04,376.60 L582.45,376.72 L582.86,376.83 L583.27,376.95 L583.68,377.07 L584.09,377.18 L584.50,377.30 L584.91,377.42 L585.32,377.53 L585.73,377.65 L586.14,377.76 L586.55,377.88 L586.96,378.00 L587.37,378.11 L587.78,378.23 L588.19,378.34 L588.60,378.46 L589.01,378.57 L589.42,378.69 L589.83,378.80 L590.24,378.92 L590.65,379.03 L591.06,379.14 L591.47,379.26 L591.88,379.37 L592.29,379.49 L592.70,379.60 L593.11,379.71 L593.52,379.83 L593.93,379.94 L594.33,380.05 L594.74,380.17 L595.15,380.28 L595.56,380.39 L595.97,380.50 L596.38,380.62 L596.79,380.73 L597.20,380.84 L597.61,380.95 L598.02,381.06 L598.43,381.17 L598.84,381.29 L599.25,381.40 L599.66,381.51 L600.07,381.62 L600.48,381.73 L600.89,381.84 L601.30,381.95 L601.71,382.06 L602.12,382.17 L602.53,382.28 L602.94,382.39 L603.35,382.50 L603.76,382.61 L604.17,382.72 L604.58,382.83 L604.99,382.94 L605.40,383.05 L605.81,383.16 L606.22,383.27 L606.63,383.37 L607.03,383.48 L607.44,383.59 L607.85,383.70 L608.26,383.81 L608.67,383.92 L609.08,384.02 L609.49,384.13 L609.90,384.24 L610.31,384.35 L610.72,384.45 L611.13,384.56 L611.54,384.67 L611.95,384.78 L612.36,384.88 L612.77,384.99 L613.18,385.10 L613.59,385.20 L614.00,385.31 L614.41,385.41 L614.82,385.52 L615.23,385.63 L615.64,385.73 L616.05,385.84 L616.46,385.94 L616.87,386.05 L617.28,386.15 L617.69,386.26 L618.10,386.36 L618.51,386.47 L618.92,386.57 L619.32,386.68 L619.73,386.78 L620.14,386.89 L620.55,386.99 L620.96,387.09 L621.37,387.20 L621.78,387.30 L622.19,387.41 L622.60,387.51 L623.01,387.61 L623.42,387.72 L623.83,387.82 L624.24,387.92 L624.65,388.02 L625.06,388.13 L625.47,388.23 L625.88,388.33 L626.29,388.43 L626.70,388.54 L627.11,388.64 L627.52,388.74 L627.93,388.84 L628.34,388.94 L628.75,389.05 L629.16,389.15 L629.57,389.25 L629.98,389.35 L630.39,389.45 L630.80,389.55 L631.21,389.65 L631.62,389.75 L632.02,389.85 L632.43,389.95 L632.84,390.05 L633.25,390.16 L633.66,390.26 L634.07,390.36 L634.48,390.46 L634.89,390.55 L635.30,390.65 L635.71,390.75 L636.12,390.85 L636.53,390.95 L636.94,391.05 L637.35,391.15 L637.76,391.25 L638.17,391.35 L638.58,391.45 L638.99,391.55 L639.40,391.64 L639.81,391.74 L640.22,391.84 L640.63,391.94 L641.04,392.04 L641.45,392.13 L641.86,392.23 L642.27,392.33 L642.68,392.43 L643.09,392.52 L643.50,392.62 L643.91,392.72 L644.32,392.82 L644.72,392.91 L645.13,393.01 L645.54,393.11 L645.95,393.20 L646.36,393.30 L646.77,393.40 L647.18,393.49 L647.59,393.59 L648.00,393.68 L648.41,393.78 L648.82,393.88 L649.23,393.97 L649.64,394.07 L650.05,394.16 L650.46,394.26 L650.87,394.35 L651.28,394.45 L651.69,394.54 L652.10,394.64 L652.51,394.73 L652.92,394.83 L653.33,394.92 L653.74,395.01 L654.15,395.11 L654.56,395.20 L654.97,395.30 L655.38,395.39 L655.79,395.49 L656.20,395.58 L656.61,395.67 L657.02,395.77 L657.42,395.86 L657.83,395.95 L658.24,396.05 L658.65,396.14 L659.06,396.23 L659.47,396.32 L659.88,396.42 L660.29,396.51 L660.70,396.60 L661.11,396.69 L661.52,396.79 L661.93,396.88 L662.34,396.97 L662.75,397.06 L663.16,397.15 L663.57,397.25 L663.98,397.34 L664.39,397.43 L664.80,397.52 L665.21,397.61 L665.62,397.70 L666.03,397.79 L666.44,397.89 L666.85,397.98 L667.26,398.07 L667.67,398.16 L668.08,398.25 L668.49,398.34 L668.90,398.43 L669.31,398.52 L669.72,398.61 L670.12,398.70 L670.53,398.79 L670.94,398.88 L671.35,398.97 L671.76,399.06 L672.17,399.15 L672.58,399.24 L672.99,399.33 L673.40,399.42 L673.81,399.51 L674.22,399.59 L674.63,399.68 L675.04,399.77 L675.45,399.86 L675.86,399.95 L676.27,400.04 L676.68,400.13 L677.09,400.21 L677.50,400.30 L677.91,400.39 L678.32,400.48 L678.73,400.57 L679.14,400.65 L679.55,400.74 L679.96,400.83 L680.37,400.92 L680.78,401.01 L681.19,401.09 L681.60,401.18 L682.01,401.27 L682.41,401.35 L682.82,401.44 L683.23,401.53 L683.64,401.61" fill="none" stroke="#1c1c1c" stroke-width="3.0" stroke-linecap="round" stroke-dasharray="8.4 9.0 1.5 9.0 1.5 8.97" stroke-dashoffset="-4.47"/>
<g stroke="#000" fill="none">
<path d="M67.6,496.4 L67.6,13" stroke-width="2.8"/>
<path d="M67.6,496.4 L671,496.4" stroke-width="2.8"/>
<path d="M66.6,0.9 L683.8,0.9 L683.8,496.4" stroke-width="2"/>
<path d="M67.6,467.59 L72.60,467.59" stroke-width="1.6"/>
<path d="M67.6,438.78 L77.30,438.78" stroke-width="2.6"/>
<path d="M67.6,409.98 L72.60,409.98" stroke-width="1.6"/>
<path d="M67.6,381.17 L77.30,381.17" stroke-width="2.6"/>
<path d="M67.6,352.36 L72.60,352.36" stroke-width="1.6"/>
<path d="M67.6,323.55 L77.30,323.55" stroke-width="2.6"/>
<path d="M67.6,294.75 L72.60,294.75" stroke-width="1.6"/>
<path d="M67.6,265.94 L77.30,265.94" stroke-width="2.6"/>
<path d="M67.6,237.13 L72.60,237.13" stroke-width="1.6"/>
<path d="M67.6,208.32 L77.30,208.32" stroke-width="2.6"/>
<path d="M67.6,179.52 L72.60,179.52" stroke-width="1.6"/>
<path d="M67.6,150.71 L77.30,150.71" stroke-width="2.6"/>
<path d="M67.6,121.90 L72.60,121.90" stroke-width="1.6"/>
<path d="M67.6,93.09 L77.30,93.09" stroke-width="2.6"/>
<path d="M67.6,64.29 L72.60,64.29" stroke-width="1.6"/>
<path d="M67.6,35.48 L77.30,35.48" stroke-width="2.6"/>
<path d="M79.30,496.4 L79.30,487.20" stroke-width="2.6"/>
<path d="M108.35,496.4 L108.35,491.60" stroke-width="1.6"/>
<path d="M137.41,496.4 L137.41,487.20" stroke-width="2.6"/>
<path d="M166.46,496.4 L166.46,491.60" stroke-width="1.6"/>
<path d="M195.52,496.4 L195.52,487.20" stroke-width="2.6"/>
<path d="M224.57,496.4 L224.57,491.60" stroke-width="1.6"/>
<path d="M253.63,496.4 L253.63,487.20" stroke-width="2.6"/>
<path d="M282.69,496.4 L282.69,491.60" stroke-width="1.6"/>
<path d="M311.74,496.4 L311.74,487.20" stroke-width="2.6"/>
<path d="M340.80,496.4 L340.80,491.60" stroke-width="1.6"/>
<path d="M369.85,496.4 L369.85,487.20" stroke-width="2.6"/>
<path d="M398.90,496.4 L398.90,491.60" stroke-width="1.6"/>
<path d="M427.96,496.4 L427.96,487.20" stroke-width="2.6"/>
<path d="M457.01,496.4 L457.01,491.60" stroke-width="1.6"/>
<path d="M486.07,496.4 L486.07,487.20" stroke-width="2.6"/>
<path d="M515.12,496.4 L515.12,491.60" stroke-width="1.6"/>
<path d="M544.18,496.4 L544.18,487.20" stroke-width="2.6"/>
<path d="M573.23,496.4 L573.23,491.60" stroke-width="1.6"/>
<path d="M602.29,496.4 L602.29,487.20" stroke-width="2.6"/>
<path d="M631.34,496.4 L631.34,491.60" stroke-width="1.6"/>
<path d="M660.40,496.4 L660.40,487.20" stroke-width="2.6"/>
</g>
<path d="M67.6,-0.5 L75.0,14 L60.199999999999996,14 Z" fill="#000"/>
<path d="M684.6,496.4 L670.6,489.09999999999997 L670.6,503.7 Z" fill="#000"/>
<line x1="67.6" y1="317.79" x2="427.96" y2="317.79" stroke="#1010ff" stroke-width="2.4" stroke-dasharray="3.4 8.11" stroke-dashoffset="0.9"/>
<line x1="67.6" y1="404.0" x2="427.96" y2="404.0" stroke="#fbab50" stroke-width="2.3" stroke-dasharray="3 8.51" stroke-dashoffset="-0.4"/>
<line x1="67.6" y1="444.9" x2="602.29" y2="444.9" stroke="#12b012" stroke-width="2.4" stroke-dasharray="4.6 10.43" stroke-dashoffset="-1.0"/>
<line x1="427.96" y1="317.79" x2="427.96" y2="496.4" stroke="#a3c978" stroke-width="2.2" stroke-dasharray="11.8 4.52 3.4 4.52" stroke-dashoffset="11.5"/>
<line x1="602.29" y1="444.55" x2="602.29" y2="496.4" stroke="#a3c978" stroke-width="2.2" stroke-dasharray="11.8 4.52 3.4 4.52" stroke-dashoffset="8.7"/>
<circle cx="428.16" cy="318.4" r="4.95" fill="#0a0aff"/>
<circle cx="428.5" cy="403.6" r="4.85" fill="#fbab4c"/>
<circle cx="602.1" cy="444.4" r="4.9" fill="#0b7d0b"/>
<text x="78" y="316.2" font-size="16" font-weight="bold" fill="#1515ff">2050</text>
<text x="78.3" y="400" font-size="16" font-weight="bold" fill="#faa546">1305</text>
<text x="82.4" y="441.5" font-size="16" font-weight="bold" fill="#14aa14">950</text>
<text x="602.69" y="510.4" font-size="16" font-weight="bold" fill="#abd18d" text-anchor="middle">550</text>
<g font-size="17" fill="#000" stroke="#000" stroke-width="0.2">
<text transform="translate(57,501.60) scale(1,1.04)" text-anchor="end">500</text>
<text transform="translate(57,443.98) scale(1,1.04)" text-anchor="end">1000</text>
<text transform="translate(57,386.37) scale(1,1.04)" text-anchor="end">1500</text>
<text transform="translate(57,328.75) scale(1,1.04)" text-anchor="end">2000</text>
<text transform="translate(57,271.14) scale(1,1.04)" text-anchor="end">2500</text>
<text transform="translate(57,213.52) scale(1,1.04)" text-anchor="end">3000</text>
<text transform="translate(57,155.91) scale(1,1.04)" text-anchor="end">3500</text>
<text transform="translate(57,98.29) scale(1,1.04)" text-anchor="end">4000</text>
<text transform="translate(57,40.68) scale(1,1.04)" text-anchor="end">4500</text>
<text transform="translate(79.60,519.6) scale(0.98,1.05)" text-anchor="middle">100</text>
<text transform="translate(137.71,519.6) scale(0.98,1.05)" text-anchor="middle">150</text>
<text transform="translate(195.82,519.6) scale(0.98,1.05)" text-anchor="middle">200</text>
<text transform="translate(253.93,519.6) scale(0.98,1.05)" text-anchor="middle">250</text>
<text transform="translate(312.04,519.6) scale(0.98,1.05)" text-anchor="middle">300</text>
<text transform="translate(370.15,519.6) scale(0.98,1.05)" text-anchor="middle">350</text>
<text transform="translate(428.26,519.6) scale(0.98,1.05)" text-anchor="middle">400</text>
<text transform="translate(486.37,519.6) scale(0.98,1.05)" text-anchor="middle">450</text>
<text transform="translate(544.48,519.6) scale(0.98,1.05)" text-anchor="middle">500</text>
<text transform="translate(602.59,519.6) scale(0.98,1.05)" text-anchor="middle">550</text>
<text transform="translate(660.70,519.6) scale(0.98,1.05)" text-anchor="middle">600</text>
</g>
<text x="375.6" y="553.9" font-size="21" font-weight="bold" fill="#000" text-anchor="middle">Annual Mining Advance/m</text>
<text transform="translate(14.2,249.6) rotate(-90)" x="0" y="0" font-size="21" font-weight="bold" fill="#000" text-anchor="middle">length of the coal mining working line/m</text>
<line x1="515.20" y1="310.41" x2="519.59" y2="310.73" stroke="#e8506e" stroke-width="2"/>
<line x1="521.12" y1="310.85" x2="525.51" y2="311.16" stroke="#c0e2a6" stroke-width="2"/>
<line x1="527.05" y1="311.27" x2="531.44" y2="311.58" stroke="#3fae5a" stroke-width="2"/>
<line x1="532.97" y1="311.68" x2="537.36" y2="311.98" stroke="#f8cfa8" stroke-width="2"/>
<line x1="538.90" y1="312.09" x2="543.29" y2="312.38" stroke="#f7963a" stroke-width="2"/>
<line x1="544.83" y1="312.48" x2="549.22" y2="312.77" stroke="#d4d0ea" stroke-width="2"/>
<line x1="550.75" y1="312.87" x2="555.14" y2="313.15" stroke="#6470c8" stroke-width="2"/>
<line x1="556.68" y1="313.25" x2="561.07" y2="313.53" stroke="#f8f0b0" stroke-width="2"/>
<line x1="562.61" y1="313.62" x2="567.00" y2="313.89" stroke="#f5e052" stroke-width="2"/>
<line x1="568.54" y1="313.98" x2="572.93" y2="314.25" stroke="#b0d8f0" stroke-width="2"/>
<line x1="574.47" y1="314.34" x2="578.86" y2="314.60" stroke="#2a9ad8" stroke-width="2"/>
<line x1="580.40" y1="314.69" x2="584.79" y2="314.94" stroke="#f4a0a8" stroke-width="2"/>
<line x1="586.33" y1="315.03" x2="590.72" y2="315.27" stroke="#e8506e" stroke-width="2"/>
<line x1="592.26" y1="315.36" x2="596.65" y2="315.60" stroke="#c0e2a6" stroke-width="2"/>
<line x1="598.19" y1="315.69" x2="602.58" y2="315.93" stroke="#3fae5a" stroke-width="2"/>
<line x1="604.12" y1="316.01" x2="608.52" y2="316.24" stroke="#f8cfa8" stroke-width="2"/>
<line x1="610.05" y1="316.32" x2="614.45" y2="316.55" stroke="#f7963a" stroke-width="2"/>
<line x1="615.99" y1="316.63" x2="620.38" y2="316.85" stroke="#d4d0ea" stroke-width="2"/>
<line x1="621.92" y1="316.93" x2="626.31" y2="317.15" stroke="#6470c8" stroke-width="2"/>
<line x1="627.85" y1="317.23" x2="632.24" y2="317.44" stroke="#f8f0b0" stroke-width="2"/>
<line x1="633.78" y1="317.52" x2="638.18" y2="317.73" stroke="#f5e052" stroke-width="2"/>
<line x1="639.72" y1="317.80" x2="644.11" y2="318.01" stroke="#b0d8f0" stroke-width="2"/>
<line x1="645.65" y1="318.08" x2="650.04" y2="318.29" stroke="#2a9ad8" stroke-width="2"/>
<line x1="651.58" y1="318.36" x2="655.98" y2="318.56" stroke="#f4a0a8" stroke-width="2"/>
<line x1="657.52" y1="318.63" x2="661.91" y2="318.82" stroke="#e8506e" stroke-width="2"/>
<line x1="663.45" y1="318.89" x2="667.85" y2="319.08" stroke="#c0e2a6" stroke-width="2"/>
<line x1="669.39" y1="319.15" x2="672.75" y2="319.29" stroke="#3fae5a" stroke-width="2"/>
<line x1="514.8" y1="317.8" x2="631.51" y2="317.8" stroke="#a8682e" stroke-width="2" stroke-dasharray="4 3.15" stroke-dashoffset="0.75"/>
<line x1="631.51" y1="317.41" x2="631.51" y2="331.7" stroke="#b8c820" stroke-width="1.2" stroke-dasharray="3 1.5"/>
<g stroke="#000" fill="none">
<path d="M514.8,331.7 L514.8,199" stroke-width="1.6"/>
<path d="M514.8,331.7 L668,331.7" stroke-width="1.8"/>
<path d="M514.8,194.9 L672.6,194.9 L672.6,331.7" stroke-width="1.1" stroke="#333"/>
<path d="M514.8,323.76 L516.60,323.76" stroke-width="1"/>
<path d="M514.8,315.82 L517.80,315.82" stroke-width="1.3"/>
<path d="M514.8,307.89 L516.60,307.89" stroke-width="1"/>
<path d="M514.8,299.95 L517.80,299.95" stroke-width="1.3"/>
<path d="M514.8,292.01 L516.60,292.01" stroke-width="1"/>
<path d="M514.8,284.07 L517.80,284.07" stroke-width="1.3"/>
<path d="M514.8,276.14 L516.60,276.14" stroke-width="1"/>
<path d="M514.8,268.20 L517.80,268.20" stroke-width="1.3"/>
<path d="M514.8,260.26 L516.60,260.26" stroke-width="1"/>
<path d="M514.8,252.32 L517.80,252.32" stroke-width="1.3"/>
<path d="M514.8,244.39 L516.60,244.39" stroke-width="1"/>
<path d="M514.8,236.45 L517.80,236.45" stroke-width="1.3"/>
<path d="M514.8,228.51 L516.60,228.51" stroke-width="1"/>
<path d="M514.8,220.57 L517.80,220.57" stroke-width="1.3"/>
<path d="M514.8,212.64 L516.60,212.64" stroke-width="1"/>
<path d="M514.8,204.70 L517.80,204.70" stroke-width="1.3"/>
<path d="M532.70,331.7 L532.70,329.90" stroke-width="1"/>
<path d="M550.60,331.7 L550.60,328.70" stroke-width="1.4"/>
<path d="M568.50,331.7 L568.50,329.90" stroke-width="1"/>
<path d="M586.40,331.7 L586.40,328.70" stroke-width="1.4"/>
<path d="M604.30,331.7 L604.30,329.90" stroke-width="1"/>
<path d="M622.20,331.7 L622.20,328.70" stroke-width="1.4"/>
<path d="M640.10,331.7 L640.10,329.90" stroke-width="1"/>
<path d="M658.00,331.7 L658.00,328.70" stroke-width="1.4"/>
</g>
<path d="M514.8,194.8 L518.3,201.2 L511.29999999999995,201.2 Z" fill="#000"/>
<path d="M673.6,331.7 L666,328.2 L666,335.2 Z" fill="#000"/>
<g font-size="7.6" fill="#444">
<text x="511.6" y="335.30" text-anchor="end">500</text>
<text x="511.6" y="319.43" text-anchor="end">1000</text>
<text x="511.6" y="303.55" text-anchor="end">1500</text>
<text x="511.6" y="287.68" text-anchor="end">2000</text>
<text x="511.6" y="271.80" text-anchor="end">2500</text>
<text x="511.6" y="255.92" text-anchor="end">3000</text>
<text x="511.6" y="240.05" text-anchor="end">3500</text>
<text x="511.6" y="224.17" text-anchor="end">4000</text>
<text x="511.6" y="208.30" text-anchor="end">4500</text>
<text x="514.80" y="341" text-anchor="middle">700</text>
<text x="550.60" y="341" text-anchor="middle">750</text>
<text x="586.40" y="341" text-anchor="middle">800</text>
<text x="622.20" y="341" text-anchor="middle">850</text>
<text x="658.00" y="341" text-anchor="middle">900</text>
</g>
<text x="509.1" y="320.1" font-size="6.6" font-weight="bold" fill="#9c6428" text-anchor="middle">950</text>
<text x="631.51" y="336.8" font-size="6.8" font-weight="bold" fill="#bcd048" text-anchor="middle">863</text>
</svg></body></html>
